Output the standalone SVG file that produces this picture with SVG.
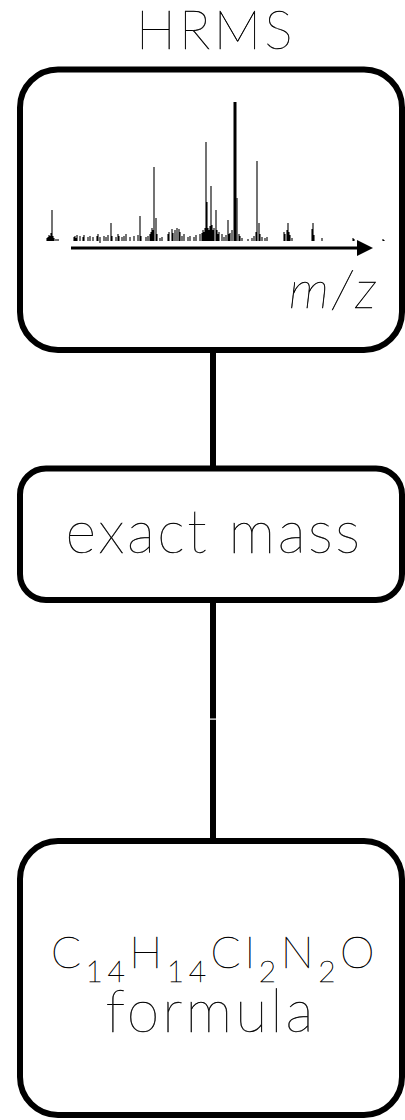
<svg xmlns="http://www.w3.org/2000/svg" width="405" height="1120" viewBox="0 0 405 1120">
<style>
.box{fill:#fff;stroke:#000;stroke-width:6}
.conn{stroke:#000;stroke-width:6;fill:none}
.t{font-family:Lato,"Liberation Sans",sans-serif;font-weight:200;fill:#000;stroke:#000;stroke-width:0.45;text-anchor:middle}
.peak{stroke:#000;stroke-width:1.1;fill:none}
</style>
<text class="t" x="216" y="49" font-size="53" letter-spacing="3.5">HRMS</text>
<g id="connectors">
<line class="conn" x1="213" y1="350" x2="213" y2="468"/>
<line class="conn" x1="213" y1="600" x2="213" y2="718.5"/>
<line class="conn" x1="213" y1="719.7" x2="213" y2="841"/>
</g>
<g id="node-hrms">
<rect class="box" x="20" y="69.5" width="382" height="280.5" rx="38"/>
<path class="peak" d="M47 241V238M48 241V237M49 241V235M50 241V236M51 241V233M52 241V210M53 241V236M54 241V238M56 241V239M58 241V239M74 241V237M75 241V236M76 241V238M77 241V235M80 241V236M83 241V237M84 241V235M88 241V237M90 241V236M93 241V237M97 241V236M98 241V234M100 243V237M104 241V236M106 241V237M108 241V235M111 241V223M112 241V236M116 241V237M118 241V234M119 241V236M122 241V237M124 241V236M126 241V234M130 241V237M134 241V236M138 241V235M140 241V216M141 241V236M146 241V237M148 241V236M150 241V234M151 241V232M152 241V228M153 241V230M154 241V167M156 241V218M157 241V234M160 241V238M162 241V237M168 241V234M169 241V232M172 241V229M173 241V233M175 241V230M177 241V228M179 241V229M180 241V232M182 241V236M184 241V234M188 241V237M190 241V236M194 241V237M196 241V235M200 241V234M202 241V233M203 241V230M204 241V232M205 241V228M206 241V142M207 241V202M208 241V228M209 241V230M210 241V226M211 241V186M212 241V225M213 241V230M214 241V228M216 241V210M217 241V230M218 241V234M219 241V232M222 241V234M224 241V237M226 241V235M228 241V220M229 241V234M230 241V233M232 241V230M237 241V198M239 241V234M240 241V236M242 241V238M248 241V239M252 241V238M254 241V236M256 241V232M257 241V161M259 241V223M260 241V234M262 241V237M265 241V238M267 241V237M284 241V232M285 241V234M287 241V230M288 241V223M289 241V232M290 241V235M292 241V238M312 241V229M313 241V223M314 241V235M322 241V238M353 241V238M354 241V239M383 241V239M384 241V240"/>
<rect x="233.5" y="102" width="3" height="139" fill="#000"/>
<line x1="71" y1="248" x2="360" y2="248" stroke="#000" stroke-width="3"/>
<path d="M357 240 L373 248 L357 256 Z" fill="#000"/>
<text class="t" x="334" y="308" font-style="italic" font-size="52" letter-spacing="3">m/z</text>
</g>
<g id="node-exact-mass">
<rect class="box" x="20" y="468.5" width="382" height="131.5" rx="26"/>
<text class="t" x="214" y="553" font-size="59" letter-spacing="2.5">exact mass</text>
</g>
<g id="node-formula">
<rect class="box" x="20" y="841" width="382" height="274" rx="38"/>
<text class="t" x="215" y="968" font-size="44" letter-spacing="4.5">C<tspan font-size="30" dy="14">14</tspan><tspan dy="-14">H</tspan><tspan font-size="30" dy="14">14</tspan><tspan dy="-14">Cl</tspan><tspan font-size="30" dy="14">2</tspan><tspan dy="-14">N</tspan><tspan font-size="30" dy="14">2</tspan><tspan dy="-14">O</tspan></text>
<text class="t" x="211" y="1032" font-size="59" letter-spacing="3">formula</text>
</g>
</svg>
